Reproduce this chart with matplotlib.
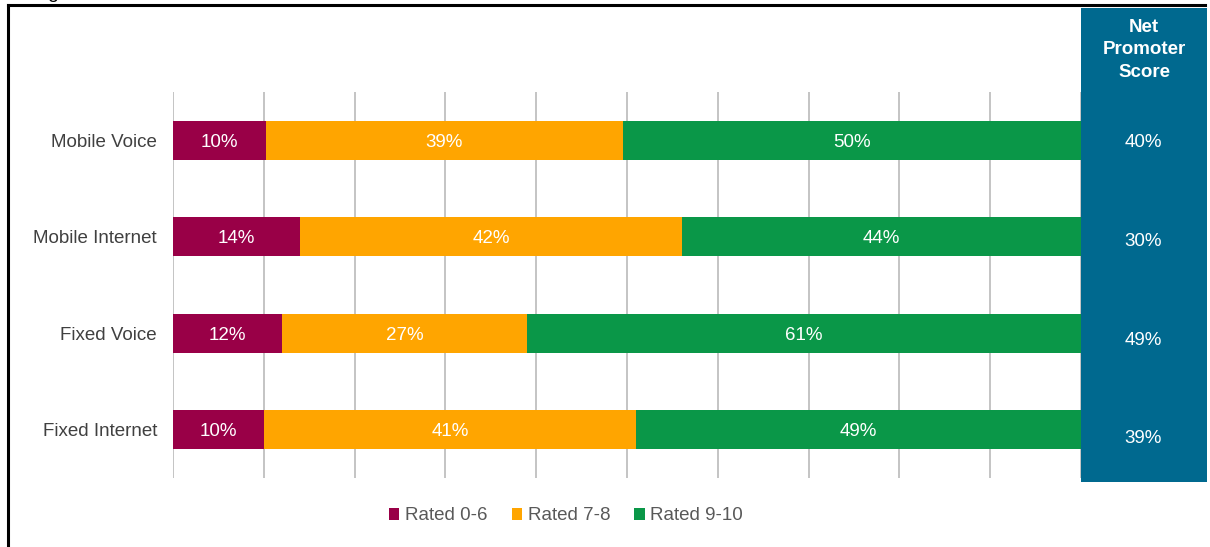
import numpy as np
import matplotlib.pyplot as plt
from matplotlib.patches import Rectangle
from matplotlib.transforms import blended_transform_factory

plt.rcParams['font.family'] = ['Liberation Sans', 'DejaVu Sans']

# data (shares in %)
services = ['Mobile Voice', 'Mobile Internet', 'Fixed Voice', 'Fixed Internet']
rated_0_6 = [10.2, 14.0, 12.0, 10.0]
rated_7_8 = [39.4, 42.1, 27.0, 41.0]
rated_9_10 = [50.4, 43.9, 61.0, 49.0]
series_names = ['Rated 0-6', 'Rated 7-8', 'Rated 9-10']
series_colors = ['#990047', '#FFA500', '#0A9748']

# net promoter score = promoters - detractors
nps = np.array(rated_9_10) - np.array(rated_0_6)

W, H = 1210, 547
fig = plt.figure(figsize=(W / 100, H / 100), dpi=100)

# frame lines of the original figure box
fig.add_artist(plt.Line2D([8 / W, 8 / W], [0, 1 - 5 / H], color='black', lw=2.2))
fig.add_artist(plt.Line2D([8 / W, 1205 / W], [1 - 5 / H, 1 - 5 / H], color='black', lw=2.2))
# bit of the caption sitting above the crop
fig.text(47 / W, 1 + 1.5 / H, 'g', fontsize=14, va='baseline', color='black')

# NPS column box
box_l, box_r, box_t, box_b = 1081, 1207, 8, 482
fig.add_artist(Rectangle((box_l / W, 1 - box_b / H), (box_r - box_l) / W, (box_b - box_t) / H,
                         transform=fig.transFigure, facecolor='#00698F', edgecolor='none', zorder=1))
fig.text((box_l + box_r) / 2 / W, 1 - 50 / H, 'Net\nPromoter\nScore', color='white',
         fontsize=13.5, fontweight='bold', ha='center', va='center', linespacing=1.4, zorder=5)

ax = fig.add_axes([173 / W, 1 - 478 / H, (1081 - 173) / W, (478 - 92) / H])
y = np.arange(len(services))
left = np.zeros(len(services))
for vals, name, col in zip([rated_0_6, rated_7_8, rated_9_10], series_names, series_colors):
    vals = np.array(vals)
    ax.barh(y, vals, left=left, height=0.4, color=col, label=name, zorder=3)
    for yi, l, v in zip(y, left, vals):
        ax.text(l + v / 2, yi + 0.02, f'{v:.0f}%', color='white', fontsize=13.5,
                ha='center', va='center', zorder=4)
    left = left + vals

ax.set_xlim(0, 100)
ax.set_ylim(len(services) - 0.5, -0.5)
ax.set_xticks(np.arange(0, 101, 10))
ax.set_xticklabels([])
ax.tick_params(axis='x', length=0)
ax.tick_params(axis='y', length=0, pad=11.5, labelsize=13.5, labelcolor='#404040')
ax.set_yticks(y)
ax.set_yticklabels(services)
ax.grid(axis='x', color='#BFBFBF', lw=1.3, zorder=0)
for s in ax.spines.values():
    s.set_visible(False)

# NPS values, in line with the bars (sit a little lower in the original)
trans = blended_transform_factory(fig.transFigure, ax.transData)
for yi, v in zip(y, nps):
    fig.text(1143 / W, yi + 0.02 + 0.025 * yi, f'{v:.0f}%', color='white', fontsize=13.5,
             ha='center', va='center', transform=trans, zorder=5)

fig.legend(loc='center', bbox_to_anchor=(566 / W, 1 - 516 / H), ncol=3, frameon=False,
           fontsize=13.5, labelcolor='#595959', handlelength=0.55, handleheight=0.55,
           handletextpad=0.3, columnspacing=1.3)

fig.savefig('out.png', dpi=100)
